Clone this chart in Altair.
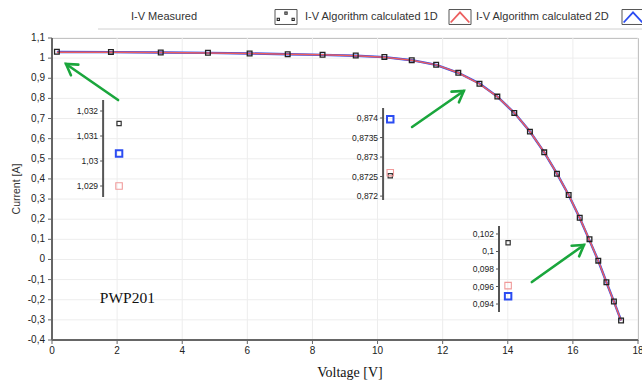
import math
import altair as alt
import pandas as pd

# ---------------- data ----------------
series_names = ["I-V Measured", "I-V Algorithm calculated 1D", "I-V Algorithm calculated 2D"]
series_colors = ["#222222", "#ec5f5f", "#2b4cf2"]

voltage = [0.15, 1.81, 3.34, 4.79, 6.07, 7.24, 8.31, 9.33, 10.21, 11.05, 11.80, 12.48,
           13.13, 13.68, 14.20, 14.68, 15.12, 15.51, 15.87, 16.21, 16.51, 16.78, 17.03,
           17.26, 17.48]
current_measured = [1.0315, 1.031, 1.028, 1.027, 1.023, 1.019, 1.017, 1.013, 1.006, 0.990,
                    0.967, 0.927, 0.87252, 0.809, 0.728, 0.635, 0.532, 0.426, 0.320, 0.207,
                    0.1010, -0.006, -0.113, -0.209, -0.303]
current_1d = [1.0290, 1.0288, 1.0275, 1.0260, 1.0235, 1.0195, 1.0165, 1.0115, 1.0045, 0.9895,
              0.9665, 0.9275, 0.87260, 0.8085, 0.7285, 0.6355, 0.5325, 0.4265, 0.3205, 0.2065,
              0.0961, -0.0065, -0.1135, -0.2095, -0.3035]
current_2d = [1.0303, 1.0298, 1.0278, 1.0262, 1.0232, 1.0192, 1.0162, 1.0118, 1.0048, 0.9898,
              0.9668, 0.9272, 0.87397, 0.8092, 0.7282, 0.6352, 0.5322, 0.4262, 0.3202, 0.2062,
              0.0949, -0.0062, -0.1132, -0.2092, -0.3032]

x_ticks = [0, 2, 4, 6, 8, 10, 12, 14, 16, 18]
y_ticks = [-0.4, -0.3, -0.2, -0.1, 0, 0.1, 0.2, 0.3, 0.4, 0.5, 0.6, 0.7, 0.8, 0.9, 1, 1.1]

# zoom insets (value of each series at one point, shown on its own small axis)
inset_axis_v = [1.57, 10.17, 13.73]
inset_x = [2.06, 10.39, 14.01]
inset_values = [
    [1.0315, 1.0290, 1.0303],
    [0.87252, 0.87260, 0.87397],
    [0.1010, 0.0961, 0.0949],
]
inset_ticks = [
    [1.029, 1.03, 1.031, 1.032],
    [0.872, 0.8725, 0.873, 0.8735, 0.874],
    [0.094, 0.096, 0.098, 0.1, 0.102],
]
inset_decimals = [3, 4, 3]
inset_domains = [[1.02856, 1.03244], [0.8719, 0.874256], [0.09309, 0.10291]]

# annotation arrows (tail -> head, in data units)
arrow_tail_v = [2.03, 11.06, 14.74]
arrow_tail_i = [0.792, 0.658, -0.112]
arrow_head_v = [0.43, 12.65, 16.34]
arrow_head_i = [0.971, 0.837, 0.072]

label_text = ["PWP201"]
label_v = [1.47]
label_i = [-0.191]

# ---------------- layout / style ----------------
W, H = 586, 302
PAD_L, PAD_T = 52, 38
inset_ranges = [[159, 62], [162, 70], [274, 188]]
inset_point_colors = ["#333333", "#f09a9a", "#2b4cf2"]
inset_point_sizes = [18, 42, 42]
inset_point_widths = [1.2, 1.1, 2.0]
GREEN = "#1aa63c"
AXIS_C = "#666666"
GRID_C = "#ededed"
SANS = "Liberation Sans"
SERIF = "Liberation Serif"


def fmt(v, nd):
    s = ("%." + str(nd) + "f") % v
    if "." in s:
        s = s.rstrip("0").rstrip(".")
    if s == "-0":
        s = "0"
    return s.replace(".", ",")


def one(text=""):
    return pd.DataFrame({"t": [text]})


xscale = alt.Scale(domain=[0, 18], nice=False, zero=False)
yscale = alt.Scale(domain=[-0.4, 1.1], nice=False, zero=False)
x_plain = alt.X("V:Q", scale=xscale, axis=None)
y_plain = alt.Y("I:Q", scale=yscale, axis=None)

# ---------------- data frames ----------------
meas_df = pd.DataFrame({"V": voltage, "I": current_measured})
d1_df = pd.DataFrame({"V": voltage, "I": current_1d})
d2_df = pd.DataFrame({"V": voltage, "I": current_2d})
xt_df = pd.DataFrame({"t": x_ticks, "lab": [str(v) for v in x_ticks]})
yt_df = pd.DataFrame({"t": y_ticks, "lab": [fmt(v, 1) for v in y_ticks]})

angles = []
for tv, ti, hv, hi in zip(arrow_tail_v, arrow_tail_i, arrow_head_v, arrow_head_i):
    dx = (hv - tv) * W / 18.0
    dy = -(hi - ti) * H / 1.5
    angles.append(math.degrees(math.atan2(dy, dx)) % 360)
arrow_df = pd.DataFrame({"tv": arrow_tail_v, "ti": arrow_tail_i,
                         "hv": arrow_head_v, "hi": arrow_head_i, "ang": angles})
label_df = pd.DataFrame({"V": label_v, "I": label_i, "t": label_text})

# ---------------- axes (grid, ticks, labels, titles) ----------------
xt_enc = alt.X("t:Q", scale=xscale, axis=None)
yt_enc = alt.Y("t:Q", scale=yscale, axis=None)
grid_x = alt.Chart(xt_df).mark_rule(color=GRID_C, strokeWidth=1).encode(x=xt_enc)
grid_y = alt.Chart(yt_df).mark_rule(color=GRID_C, strokeWidth=1).encode(y=yt_enc)
tick_y = alt.Chart(yt_df).mark_rule(color=AXIS_C, strokeWidth=1).encode(
    y=yt_enc, x=alt.value(-4), x2=alt.value(0))
tick_x = alt.Chart(xt_df).mark_rule(color=AXIS_C, strokeWidth=1).encode(
    x=xt_enc, y=alt.value(H), y2=alt.value(H + 4))
lab_y = alt.Chart(yt_df).mark_text(
    align="right", baseline="middle", font=SANS, fontSize=10, color="#222").encode(
    y=yt_enc, x=alt.value(-7), text="lab:N")
lab_x = alt.Chart(xt_df).mark_text(
    align="center", baseline="top", font=SANS, fontSize=10, color="#222").encode(
    x=xt_enc, y=alt.value(H + 6), text="lab:N")
dom_y = alt.Chart(one()).mark_rule(color=AXIS_C, strokeWidth=2).encode(
    x=alt.value(0), y=alt.value(0), y2=alt.value(H))
dom_x = alt.Chart(one()).mark_rule(color=AXIS_C, strokeWidth=2).encode(
    y=alt.value(H), x=alt.value(0), x2=alt.value(W))
title_y = alt.Chart(one("Current [A]")).mark_text(
    angle=270, align="center", baseline="middle", font=SANS, fontSize=10.5,
    color="#333").encode(x=alt.value(-35), y=alt.value(H / 2), text="t:N")
title_x = alt.Chart(one("Voltage  [V]")).mark_text(
    align="center", baseline="middle", font=SERIF, fontSize=14, color="#111").encode(
    x=alt.value(W / 2 + 5), y=alt.value(H + 33), text="t:N")

# ---------------- legend (LabVIEW style: name, then plot icon) ----------------
FRAME = "M-1,-0.68L1,-0.68L1,0.68L-1,0.68Z"
P_MEAS = ("M-0.8,0.12L-0.6,0.12L-0.6,0.32L-0.8,0.32Z"
          "M-0.1,-0.45L0.1,-0.45L0.1,-0.25L-0.1,-0.25Z"
          "M0.55,0.12L0.75,0.12L0.75,0.32L0.55,0.32Z")
P_LINE = "M-0.85,0.5L0,-0.42L0.85,0.5"
LEG_Y = -21


def leg_text(text, xpx):
    return alt.Chart(one(text)).mark_text(
        align="left", baseline="middle", font=SANS, fontSize=11, color="#333").encode(
        x=alt.value(xpx), y=alt.value(LEG_Y), text="t:N")


def leg_icon(path, color, width, xpx):
    frame = alt.Chart(one()).mark_point(
        shape=FRAME, size=484, filled=False, color="#555", strokeWidth=1, opacity=1).encode(
        x=alt.value(xpx), y=alt.value(LEG_Y))
    glyph = alt.Chart(one()).mark_point(
        shape=path, size=484, filled=False, color=color, strokeWidth=width, opacity=1).encode(
        x=alt.value(xpx), y=alt.value(LEG_Y))
    return [frame, glyph]


leg_line = alt.Chart(one()).mark_rule(color="#d0d0d0", strokeWidth=1).encode(
    x=alt.value(46), x2=alt.value(W + 4), y=alt.value(-9))
legend_layers = ([leg_line, leg_text(series_names[0], 79)]
                 + leg_icon(P_MEAS, series_colors[0], 1.1, 234)
                 + [leg_text(series_names[1], 253)]
                 + leg_icon(P_LINE, series_colors[1], 1.8, 408)
                 + [leg_text(series_names[2], 424)]
                 + leg_icon(P_LINE, series_colors[2], 1.8, 581))

# ---------------- data layers ----------------
blue_line = alt.Chart(d2_df).mark_line(strokeWidth=2.4, color=series_colors[2]).encode(
    x=x_plain, y=y_plain)
red_line = alt.Chart(d1_df).mark_line(strokeWidth=1.5, color=series_colors[1]).encode(
    x=x_plain, y=y_plain)
points = alt.Chart(meas_df).mark_point(
    shape="square", filled=False, size=22, strokeWidth=1.3, color=series_colors[0],
    opacity=1).encode(x=x_plain, y=y_plain)
shafts = alt.Chart(arrow_df).mark_rule(color=GREEN, strokeWidth=2.6, strokeCap="round").encode(
    x=alt.X("tv:Q", scale=xscale, axis=None), y=alt.Y("ti:Q", scale=yscale, axis=None),
    x2="hv:Q", y2="hi:Q")
heads = alt.Chart(arrow_df).mark_point(
    shape="M-1,-0.62L0,0L-1,0.62", filled=False, size=440, color=GREEN, strokeWidth=2.6,
    opacity=1, strokeCap="round").encode(
    x=alt.X("hv:Q", scale=xscale, axis=None), y=alt.Y("hi:Q", scale=yscale, axis=None),
    angle=alt.Angle("ang:Q", scale=None))
label = alt.Chart(label_df).mark_text(
    font=SERIF, fontSize=15.5, align="left", baseline="middle", color="#111").encode(
    x=x_plain, y=y_plain, text="t:N")

main = alt.layer(grid_x, grid_y, blue_line, red_line, points, shafts, heads, label,
                 tick_y, tick_x, lab_y, lab_x, dom_y, dom_x, title_y, title_x,
                 *legend_layers)


def inset(k):
    sc = alt.Scale(domain=inset_domains[k], range=inset_ranges[k], nice=False, zero=False)
    xv = alt.X("V:Q", scale=xscale, axis=None)
    yv = alt.Y("val:Q", scale=sc, axis=None)
    pts_df = pd.DataFrame({"series": series_names, "V": [inset_x[k]] * 3,
                           "val": inset_values[k]})
    ax_df = pd.DataFrame({"V": [inset_axis_v[k]], "y0": [inset_domains[k][0]],
                          "y1": [inset_domains[k][1]]})
    tk_df = pd.DataFrame({"V": [inset_axis_v[k]] * len(inset_ticks[k]),
                          "val": inset_ticks[k],
                          "lab": [fmt(v, inset_decimals[k]) for v in inset_ticks[k]]})
    layers = [
        alt.Chart(ax_df).mark_rule(color="#555", strokeWidth=2).encode(
            x=xv, y=alt.Y("y0:Q", scale=sc, axis=None), y2="y1:Q"),
        alt.Chart(tk_df).mark_point(
            shape="M-1,0L0,0", size=36, filled=False, color="#555", strokeWidth=1,
            opacity=1).encode(x=xv, y=yv),
        alt.Chart(tk_df).mark_text(
            align="right", baseline="middle", dx=-5, font=SANS, fontSize=8.5,
            color="#222").encode(x=xv, y=yv, text="lab:N"),
    ]
    for j in range(3):
        layers.append(alt.Chart(pts_df).transform_filter(
            alt.datum.series == series_names[j]).mark_point(
            shape="square", filled=False, size=inset_point_sizes[j],
            strokeWidth=inset_point_widths[j], color=inset_point_colors[j], opacity=1).encode(
            x=xv, y=yv))
    return alt.layer(*layers)


chart = alt.layer(main, inset(0), inset(1), inset(2)).resolve_scale(
    y="independent").properties(
    width=W, height=H,
    autosize=alt.AutoSizeParams(type="none"),
    padding={"left": PAD_L, "top": PAD_T, "right": 642 - PAD_L - W, "bottom": 381 - PAD_T - H},
    background="white",
).configure_view(stroke="#999", strokeWidth=1)

chart.save("out.html", embed_options={"renderer": "svg", "actions": False})
